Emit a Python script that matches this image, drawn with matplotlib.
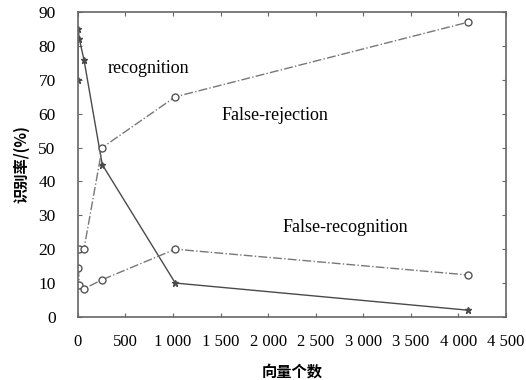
import matplotlib.pyplot as plt

# vector counts and rates (%)
rec_x = [1, 4, 16, 64, 256, 1024, 4096]
rec_y = [70, 85, 82, 76, 45, 10, 2]

frej_x = [16, 64, 256, 1024, 4096]
frej_y = [20, 20, 50, 65, 87]

frec_x = [4, 16, 64, 256, 1024, 4096]
frec_y = [14.5, 9.5, 8.3, 11, 20, 12.4]

xticks = [0, 500, 1000, 1500, 2000, 2500, 3000, 3500, 4000, 4500]
yticks = [0, 10, 20, 30, 40, 50, 60, 70, 80, 90]

plt.rcParams['font.family'] = ['Liberation Serif', 'Noto Sans CJK SC']

fig = plt.figure(figsize=(5.26, 3.80), dpi=100)
ax = fig.add_axes([0.148, 0.166, 0.814, 0.802])

line_col = '#4a4a4a'
ax.plot(rec_x, rec_y, '-', color=line_col, lw=1.0, marker='*', ms=5,
        mfc=line_col, mec=line_col)
ax.plot(frej_x, frej_y, '-.', color='#777777', lw=1.0, marker='o', ms=5,
        mfc='white', mec='#555555')
ax.plot(frec_x, frec_y, '-.', color='#777777', lw=1.0, marker='o', ms=5,
        mfc='white', mec='#555555')

ax.text(314, 73.5, 'recognition', fontsize=13, va='center')
ax.text(1508, 59.5, 'False-rejection', fontsize=13, va='center')
ax.text(2146, 26.5, 'False-recognition', fontsize=13, va='center')

ax.set_xlim(0, 4500)
ax.set_ylim(0, 90)
ax.set_xticks(xticks)
ax.set_xticklabels([f'{v:,}'.replace(',', ' ') for v in xticks])
ax.set_yticks(yticks)
ax.tick_params(direction='in', top=True, right=True, length=3,
               color='#666666', labelsize=12.5)
ax.tick_params(axis='x', pad=12, labelsize=12)
ax.tick_params(axis='y', pad=16)
for s in ax.spines.values():
    s.set_color('#666666')
    s.set_linewidth(1.2)

ax.set_xlabel('向量个数', fontsize=11, fontweight='bold',
              family=['Noto Sans CJK SC', 'Liberation Serif'], labelpad=10)
ax.set_ylabel('识别率/(%)', fontsize=11, fontweight='bold',
              family=['Noto Sans CJK SC', 'Liberation Serif'], labelpad=6)

fig.savefig('out.png', dpi=100)
